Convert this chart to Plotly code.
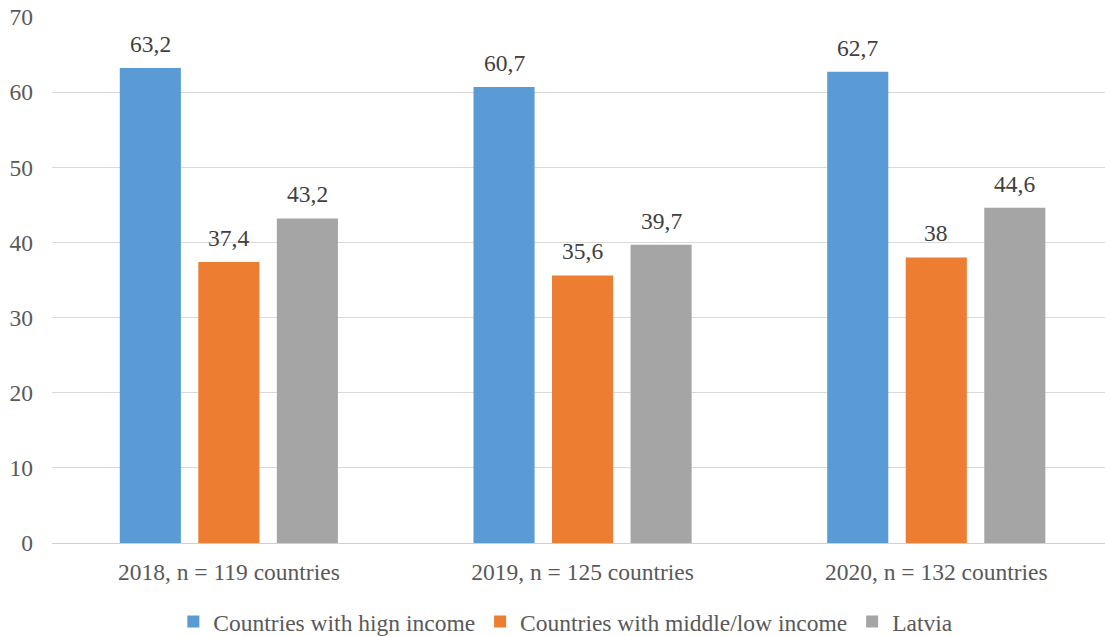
import plotly.graph_objects as go

categories = ["2018, n = 119 countries", "2019, n = 125 countries", "2020, n = 132 countries"]
high_income = [63.2, 60.7, 62.7]
middle_low_income = [37.4, 35.6, 38.0]
latvia = [43.2, 39.7, 44.6]

series = [
    ("Countries with hign income", high_income, "#5b9bd5"),
    ("Countries with middle/low income", middle_low_income, "#ed7d31"),
    ("Latvia", latvia, "#a5a5a5"),
]

BARGAP = 0.334
GROUPGAP = 0.222

def fmt(v):
    s = f"{v:.1f}".replace(".", ",")
    return s[:-2] if s.endswith(",0") else s

serif = "Liberation Serif, Times New Roman, serif"
FS = 23.5

fig = go.Figure()
slot = (1 - BARGAP) / len(series)
annotations = []
for k, (name, vals, color) in enumerate(series):
    fig.add_trace(go.Bar(
        x=categories, y=vals, name=name,
        marker=dict(color=color, line=dict(width=0)),
    ))
    # value labels centred over each bar of the group
    offset = (k - (len(series) - 1) / 2) * slot
    for i, v in enumerate(vals):
        annotations.append(dict(
            x=i + offset, y=v, xref="x", yref="y", text=fmt(v),
            showarrow=False, yanchor="bottom", yshift=9,
            font=dict(family=serif, size=FS, color="#404040"),
        ))

fig.update_layout(
    width=1105, height=636,
    margin=dict(l=52, r=0, t=17, b=93, autoexpand=False),
    plot_bgcolor="white", paper_bgcolor="white",
    barmode="group", bargap=BARGAP, bargroupgap=GROUPGAP,
    showlegend=True,
    legend=dict(orientation="h", x=0.488, xanchor="center", y=-0.108, yanchor="top",
                font=dict(family=serif, size=FS, color="#595959"),
                traceorder="normal"),
    xaxis=dict(range=[-0.5, 2.477], showgrid=False, zeroline=False,
               tickfont=dict(family=serif, size=FS, color="#595959"),
               ticks="", ticklabelstandoff=12),
    yaxis=dict(range=[0, 70], dtick=10, showgrid=True, gridcolor="#d9d9d9", gridwidth=1,
               zeroline=True, zerolinecolor="#d0d0d0", zerolinewidth=1,
               tickfont=dict(family=serif, size=FS, color="#595959"),
               ticks="", ticklabelstandoff=18),
    annotations=annotations,
)

fig.write_html("out.html")
